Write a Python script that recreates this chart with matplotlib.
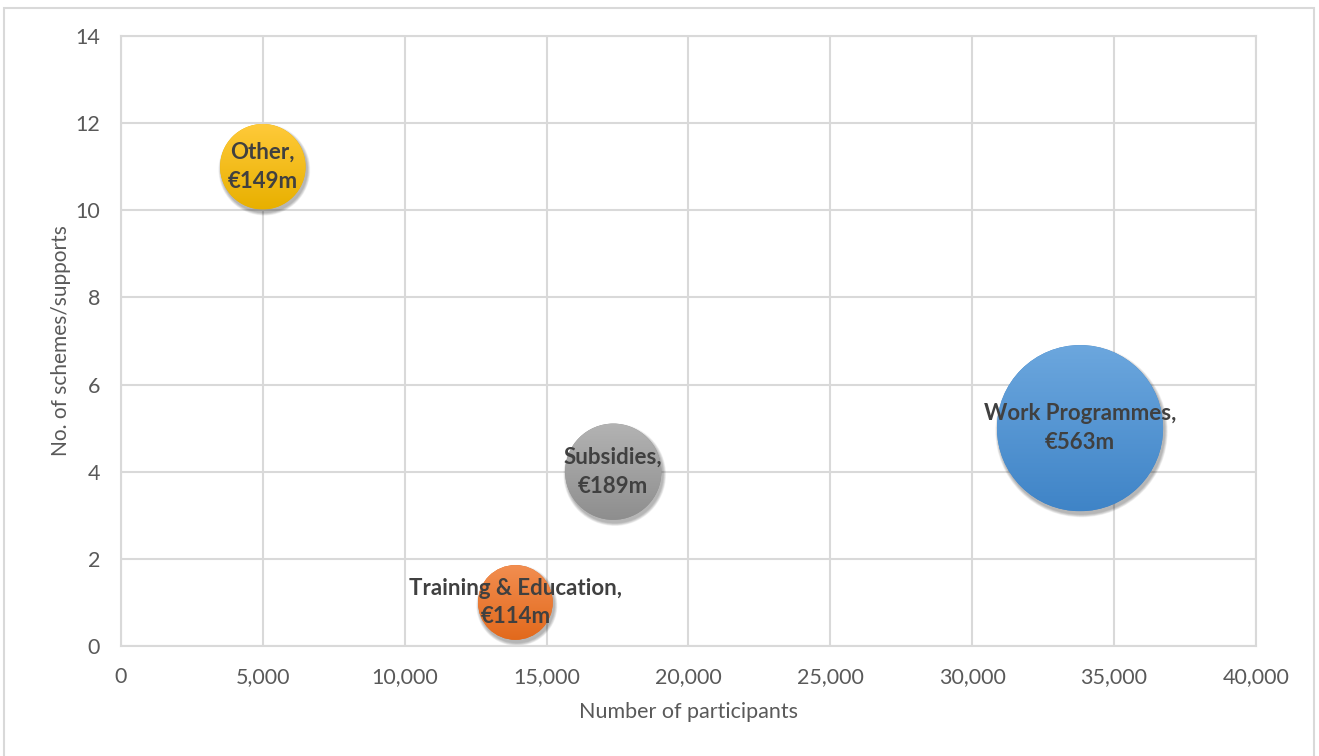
import numpy as np
import matplotlib
matplotlib.use("Agg")
import matplotlib.pyplot as plt
from matplotlib.patches import Circle, Rectangle
from matplotlib.transforms import ScaledTranslation
from matplotlib.colors import LinearSegmentedColormap

plt.rcParams['font.family'] = ['Lato', 'DejaVu Sans']

# Activation supports: participants, number of schemes, spend (EUR m)
categories = ['Other', 'Subsidies', 'Training & Education', 'Work Programmes']
participants = [5000, 17350, 13900, 33800]
schemes = [11, 4, 1, 5]
spend = [149, 189, 114, 563]

# top/bottom gradient colours per bubble
top_colors = ['#FFCA3A', '#B3B3B3', '#F28E50', '#6CA7DE']
bottom_colors = ['#E8B000', '#8E8E8E', '#E2691C', '#3F84C7']

fig = plt.figure(figsize=(13.19, 7.56), dpi=100)
ax = fig.add_axes([0.0917, 0.1455, 0.8605, 0.8069])

ax.set_xlim(0, 40000)
ax.set_ylim(0, 14)
ax.set_xticks(np.arange(0, 40001, 5000))
ax.set_yticks(np.arange(0, 15, 2))
ax.set_xticklabels(['{:,}'.format(v) for v in range(0, 40001, 5000)])
ax.grid(True, color='#D9D9D9', linewidth=1.5)
ax.set_axisbelow(True)
for s in ax.spines.values():
    s.set_color('#D9D9D9')
    s.set_linewidth(1.5)
ax.tick_params(length=0, labelsize=15.5, colors='#595959')
ax.tick_params(axis='x', pad=15)
ax.tick_params(axis='y', pad=15)
ax.set_xlabel('Number of participants', fontsize=15.5, color='#595959', labelpad=11)
ax.set_ylabel('No. of schemes/supports', fontsize=15, color='#595959', labelpad=3)

# bubble radius in inches, area proportional to spend
scale = 0.035
for name, x, y, v, c0, c1 in zip(categories, participants, schemes, spend,
                                  top_colors, bottom_colors):
    r = scale * np.sqrt(v)
    base = fig.dpi_scale_trans + ScaledTranslation(x, y, ax.transData)
    # soft drop shadow
    for i in range(8):
        sh = Circle((0.015, -0.03), r + 0.004 * (8 - i), transform=base,
                    facecolor='black', edgecolor='none', alpha=0.04, zorder=2)
        ax.add_patch(sh)
    circ = Circle((0, 0), r, transform=base, facecolor=c1, edgecolor='none', zorder=3)
    ax.add_patch(circ)
    cmap = LinearSegmentedColormap.from_list(name, [c1, c0])
    grad = np.linspace(0, 1, 256).reshape(-1, 1)
    im = ax.imshow(grad, cmap=cmap, origin='lower', extent=(-r, r, -r, r),
                   transform=base, aspect='auto', zorder=4, interpolation='bilinear')
    im.set_clip_path(circ)
    ax.text(x, y, '{},\n€{}m'.format(name, v), ha='center', va='center',
            fontsize=16, fontweight='bold', color='#404040', zorder=5,
            linespacing=1.45)

ax.set_xlim(0, 40000)
ax.set_ylim(0, 14)

# outer chart border
fig.patches.append(Rectangle((0.003, -0.01), 0.993, 1.0, transform=fig.transFigure,
                             fill=False, edgecolor='#D9D9D9', linewidth=1.5))

fig.savefig('out.png', dpi=100)
